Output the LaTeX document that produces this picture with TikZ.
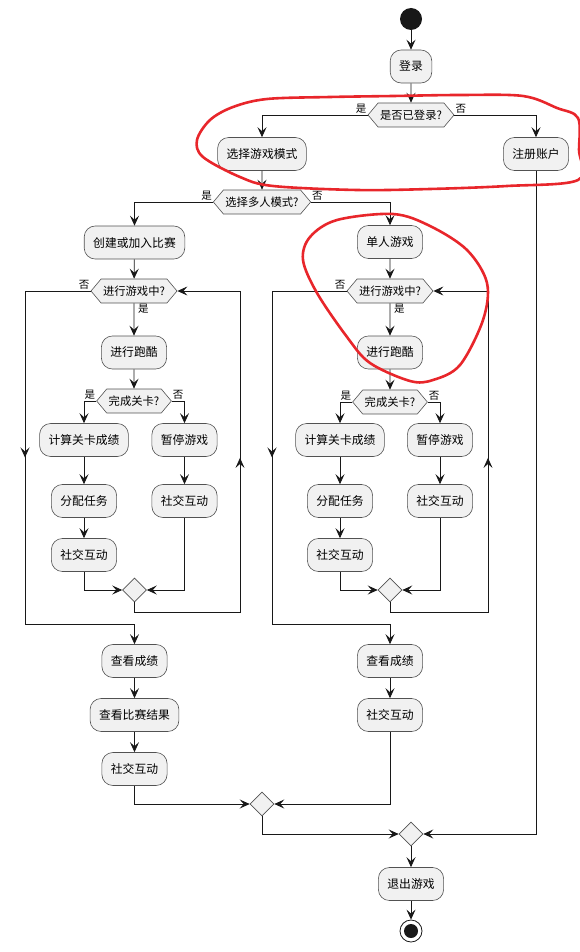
\documentclass[tikz,border=0pt]{standalone}
\usepackage{fontspec}
\setmainfont{Noto Sans CJK SC}
\usetikzlibrary{arrows.meta,shapes.geometric,shapes.symbols,calc}
\definecolor{boxfill}{HTML}{F1F1F1}
\definecolor{ink}{HTML}{181818}
\definecolor{redpen}{HTML}{E8262B}
\begin{document}
\begin{tikzpicture}[x=1pt,y=-1pt,
  act/.style={draw=ink!75, fill=boxfill, rounded corners=11pt, minimum height=33pt, inner xsep=9pt, inner ysep=0pt, font=\fontsize{11.8}{12}\selectfont, line width=0.6pt},
  dec/.style={signal, signal to=east and west, signal pointer angle=100, draw=ink!75, fill=boxfill, minimum height=24pt, inner xsep=2pt, inner ysep=0pt, font=\fontsize{11.3}{12}\selectfont, line width=0.6pt},
  mrg/.style={diamond, draw=ink!75, fill=boxfill, minimum width=24pt, minimum height=24pt, inner sep=0pt, line width=0.6pt},
  lbl/.style={font=\fontsize{10.5}{11}\selectfont, inner sep=1pt},
  wire/.style={draw=ink, line width=0.8pt},
  arr/.style={wire, -{Stealth[length=10pt,width=9pt,inset=4pt]}},
  pen/.style={draw=redpen, line width=2.6pt, line join=round, line cap=round}]
\useasboundingbox (0,0) rectangle (580,952);

% top
\node[circle, fill=ink, minimum size=22pt, inner sep=0pt] (start) at (411,19) {};
\node[act] (login) at (411,66.5) {登录};
\node[dec] (d1) at (411,115) {是否已登录?};
\node[act] (sel) at (262,154) {选择游戏模式};
\node[act] (reg) at (536,154) {注册账户};
\node[dec] (d2) at (262,202) {选择多人模式?};
\node[act] (cj) at (134.5,242.5) {创建或加入比赛};
\node[act] (sp) at (390,242) {单人游戏};

% left loop
\node[dec] (Lg) at (134,291) {进行游戏中?};
\node[act] (Lr) at (134,352.5) {进行跑酷};
\node[dec] (Lc) at (134,401) {完成关卡?};
\node[act] (Lcalc) at (84,440) {计算关卡成绩};
\node[act] (Lpause) at (184.5,440) {暂停游戏};
\node[act] (Lassign) at (84,501) {分配任务};
\node[act] (Lsoc2) at (184.5,501) {社交互动};
\node[act] (Lsoc1) at (84,555) {社交互动};
\node[mrg] (Lm) at (134.5,590) {};
\node[act] (Lview) at (134.5,661) {查看成绩};
\node[act] (Lres) at (134.5,715) {查看比赛结果};
\node[act] (Lsoc3) at (134.5,769) {社交互动};

% right loop
\node[dec] (Rg) at (390,291) {进行游戏中?};
\node[act] (Rr) at (390,352.5) {进行跑酷};
\node[dec] (Rc) at (390,402) {完成关卡?};
\node[act] (Rcalc) at (340,440) {计算关卡成绩};
\node[act] (Rpause) at (440,440) {暂停游戏};
\node[act] (Rassign) at (340,501) {分配任务};
\node[act] (Rsoc2) at (440,501) {社交互动};
\node[act] (Rsoc1) at (340,555) {社交互动};
\node[mrg] (Rm) at (390,590) {};
\node[act] (Rview) at (390,661) {查看成绩};
\node[act] (Rsoc3) at (390,715) {社交互动};

% bottom
\node[mrg] (M1) at (262,804) {};
\node[mrg] (M2) at (411,834) {};
\node[act] (exit) at (411,884) {退出游戏};
\node[circle, draw=ink, fill=white, minimum size=22pt, inner sep=0pt, line width=0.8pt] (end) at (411,931) {};
\node[circle, fill=ink, minimum size=14pt, inner sep=0pt] (endin) at (end) {};

% loop coordinates
\coordinate (Ltl) at (25,291);
\coordinate (Lbl) at (25,624);
\coordinate (Lbr) at (240,612);
\coordinate (Ltr) at (240,291);
\coordinate (Rtl) at (272,291);
\coordinate (Rbl) at (272,624);
\coordinate (Rbr) at (488,612);
\coordinate (Rtr) at (488,291);

% connectors top
\draw[arr] (start) -- (login);
\draw[arr] (login) -- (d1);
\draw[arr] (d1.west) -| (sel.north);
\draw[arr] (d1.east) -| (reg.north);
\node[lbl, anchor=south east] at (d1.west) {是};
\node[lbl, anchor=south west] at (d1.east) {否};
\draw[arr] (sel) -- (d2);
\draw[arr] (d2.west) -| (cj.north);
\draw[arr] (d2.east) -| (sp.north);
\node[lbl, anchor=south east] at (d2.west) {是};
\node[lbl, anchor=south west] at (d2.east) {否};

% left loop connectors
\draw[arr] (cj) -- (Lg);
\draw[arr] (Lg) -- (Lr);
\node[lbl, anchor=north west, xshift=3pt] at (Lg.south) {是};
\node[lbl, anchor=south east] at (Lg.west) {否};
\draw[arr] (Lr) -- (Lc);
\draw[arr] (Lc.west) -| (Lcalc.north);
\draw[arr] (Lc.east) -| (Lpause.north);
\node[lbl, anchor=south east] at (Lc.west) {是};
\node[lbl, anchor=south west] at (Lc.east) {否};
\draw[arr] (Lcalc) -- (Lassign);
\draw[arr] (Lassign) -- (Lsoc1);
\draw[arr] (Lpause) -- (Lsoc2);
\draw[arr] (Lsoc1.south) |- (Lm.west);
\draw[arr] (Lsoc2.south) |- (Lm.east);
\draw[arr] (Lm.south) |- (Lbr) -- (Ltr) -- (Lg.east);
\draw[arr] (Lbr) -- ($(Lbr)!0.48!(Ltr)$);
\draw[arr] (Lg.west) -- (Ltl) -- (Lbl) -| (Lview.north);
\draw[arr] (Ltl) -- ($(Ltl)!0.5!(Lbl)$);
\draw[arr] (Lview) -- (Lres);
\draw[arr] (Lres) -- (Lsoc3);

% right loop connectors
\draw[arr] (sp) -- (Rg);
\draw[arr] (Rg) -- (Rr);
\node[lbl, anchor=north west, xshift=3pt] at (Rg.south) {是};
\node[lbl, anchor=south east] at (Rg.west) {否};
\draw[arr] (Rr) -- (Rc);
\draw[arr] (Rc.west) -| (Rcalc.north);
\draw[arr] (Rc.east) -| (Rpause.north);
\node[lbl, anchor=south east] at (Rc.west) {是};
\node[lbl, anchor=south west] at (Rc.east) {否};
\draw[arr] (Rcalc) -- (Rassign);
\draw[arr] (Rassign) -- (Rsoc1);
\draw[arr] (Rpause) -- (Rsoc2);
\draw[arr] (Rsoc1.south) |- (Rm.west);
\draw[arr] (Rsoc2.south) |- (Rm.east);
\draw[arr] (Rm.south) |- (Rbr) -- (Rtr) -- (Rg.east);
\draw[arr] (Rbr) -- ($(Rbr)!0.48!(Rtr)$);
\draw[arr] (Rg.west) -- (Rtl) -- (Rbl) -| (Rview.north);
\draw[arr] (Rtl) -- ($(Rtl)!0.5!(Rbl)$);
\draw[arr] (Rview) -- (Rsoc3);

% bottom connectors
\draw[arr] (Lsoc3.south) |- (M1.west);
\draw[arr] (Rsoc3.south) |- (M1.east);
\draw[arr] (M1.south) |- (M2.west);
\draw[arr] (reg.south) |- (M2.east);
\draw[arr] (M2) -- (exit);
\draw[arr] (exit) -- (end);

% red hand-drawn annotations
\draw[pen] plot[smooth cycle, tension=0.55] coordinates {(233,107) (267,99) (330,97) (393,96) (460,95) (523,96) (557,108) (578,118) (579,150) (578,180) (507,186) (430,189) (357,190) (273,186) (240,177) (203,157) (197,140) (210,120)};
\draw[pen] plot[smooth cycle, tension=0.55] coordinates {(337,220) (393,214) (430,226) (467,250) (487,283) (483,320) (460,365) (433,380) (410,381) (370,363) (347,337) (317,293) (303,260) (310,237)};
\end{tikzpicture}
\end{document}
